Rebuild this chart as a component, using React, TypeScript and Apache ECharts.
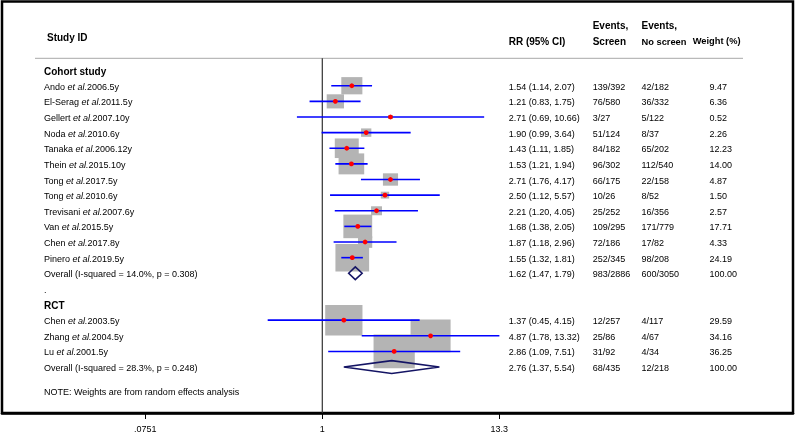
import React, { useEffect, useRef } from "react";
import * as echarts from "echarts";

// ---------- data ----------
const cohortAuthors = ["Ando", "El-Serag", "Gellert", "Noda", "Tanaka", "Thein", "Tong", "Tong", "Trevisani", "Van", "Chen", "Pinero"];
const cohortYears = ["2006.5y", "2011.5y", "2007.10y", "2010.6y", "2006.12y", "2015.10y", "2017.5y", "2010.6y", "2007.6y", "2015.5y", "2017.8y", "2019.5y"];
const cohortRR = [1.54, 1.21, 2.71, 1.9, 1.43, 1.53, 2.71, 2.5, 2.21, 1.68, 1.87, 1.55];
const cohortLower = [1.14, 0.83, 0.69, 0.99, 1.11, 1.21, 1.76, 1.12, 1.2, 1.38, 1.18, 1.32];
const cohortUpper = [2.07, 1.75, 10.66, 3.64, 1.85, 1.94, 4.17, 5.57, 4.05, 2.05, 2.96, 1.81];
const cohortScreen = ["139/392", "76/580", "3/27", "51/124", "84/182", "96/302", "66/175", "10/26", "25/252", "109/295", "72/186", "252/345"];
const cohortNoScreen = ["42/182", "36/332", "5/122", "8/37", "65/202", "112/540", "22/158", "8/52", "16/356", "171/779", "17/82", "98/208"];
const cohortWeight = [9.47, 6.36, 0.52, 2.26, 12.23, 14.0, 4.87, 1.5, 2.57, 17.71, 4.33, 24.19];
const cohortOverallLabel = "Overall (I-squared = 14.0%, p = 0.308)";
const cohortOverall = [1.62, 1.47, 1.79];
const cohortOverallEvents = ["983/2886", "600/3050"];
const cohortOverallWeight = 100.0;

const rctAuthors = ["Chen", "Zhang", "Lu"];
const rctYears = ["2003.5y", "2004.5y", "2001.5y"];
const rctRR = [1.37, 4.87, 2.86];
const rctLower = [0.45, 1.78, 1.09];
const rctUpper = [4.15, 13.32, 7.51];
const rctScreen = ["12/257", "25/86", "31/92"];
const rctNoScreen = ["4/117", "4/67", "4/34"];
const rctWeight = [29.59, 34.16, 36.25];
const rctOverallLabel = "Overall (I-squared = 28.3%, p = 0.248)";
const rctOverall = [2.76, 1.37, 5.54];
const rctOverallEvents = ["68/435", "12/218"];
const rctOverallWeight = 100.0;

const tickValues = [0.0751, 1, 13.3];
const tickLabels = [".0751", "1", "13.3"];

const headers = ["Study ID", "RR (95% CI)", "Events,", "Screen", "Events,", "No screen", "Weight (%)"];
const noteText = "NOTE: Weights are from random effects analysis";

// ---------- layout constants ----------
const FONT = "'Liberation Sans', Arial, Helvetica, sans-serif";
const X_MIN = -4.683;
const X_MAX = 6.882;
const Y_MIN = -4.389;
const Y_MAX = 21.939;
const HEADER_ROW = -0.755;
const BOX_W = 6.85;
const BOX_H = 5.6;
const COL_LABEL = 44;
const COL_RR = 508.7;
const COL_S = 592.7;
const COL_NS = 641.5;
const COL_W = 709.5;

const fmt = (r: number, l: number, u: number) => `${r.toFixed(2)} (${l.toFixed(2)}, ${u.toFixed(2)})`;

type RowText = { row: number; label: string; bold?: boolean; rich?: boolean; rr?: string; s?: string; ns?: string; w?: string };

function buildRows() {
  const rows: RowText[] = [];
  const studies: number[][] = [];
  const overalls: number[][] = [];
  rows.push({ row: 0, label: "Cohort study", bold: true });
  cohortAuthors.forEach((a, i) => {
    const row = 1 + i;
    rows.push({
      row,
      label: `{n|${a} }{i|et al.}{n|${cohortYears[i]}}`,
      rich: true,
      rr: fmt(cohortRR[i], cohortLower[i], cohortUpper[i]),
      s: cohortScreen[i],
      ns: cohortNoScreen[i],
      w: cohortWeight[i].toFixed(2),
    });
    studies.push([Math.log(cohortRR[i]), row, Math.log(cohortLower[i]), Math.log(cohortUpper[i]), cohortWeight[i]]);
  });
  const cRow = 1 + cohortAuthors.length;
  rows.push({ row: cRow, label: cohortOverallLabel, rr: fmt(cohortOverall[0], cohortOverall[1], cohortOverall[2]), s: cohortOverallEvents[0], ns: cohortOverallEvents[1], w: cohortOverallWeight.toFixed(2) });
  overalls.push([Math.log(cohortOverall[0]), cRow, Math.log(cohortOverall[1]), Math.log(cohortOverall[2])]);
  rows.push({ row: cRow + 1, label: "." });
  rows.push({ row: cRow + 2, label: "RCT", bold: true });
  rctAuthors.forEach((a, i) => {
    const row = cRow + 3 + i;
    rows.push({
      row,
      label: `{n|${a} }{i|et al.}{n|${rctYears[i]}}`,
      rich: true,
      rr: fmt(rctRR[i], rctLower[i], rctUpper[i]),
      s: rctScreen[i],
      ns: rctNoScreen[i],
      w: rctWeight[i].toFixed(2),
    });
    studies.push([Math.log(rctRR[i]), row, Math.log(rctLower[i]), Math.log(rctUpper[i]), rctWeight[i]]);
  });
  const rRow = cRow + 3 + rctAuthors.length;
  rows.push({ row: rRow, label: rctOverallLabel, rr: fmt(rctOverall[0], rctOverall[1], rctOverall[2]), s: rctOverallEvents[0], ns: rctOverallEvents[1], w: rctOverallWeight.toFixed(2) });
  overalls.push([Math.log(rctOverall[0]), rRow, Math.log(rctOverall[1]), Math.log(rctOverall[2])]);
  rows.push({ row: rRow + 1.5, label: noteText });
  return { rows, studies, overalls };
}

function txt(text: string, x: number, y: number, size: number, bold = false) {
  return {
    type: "text",
    style: {
      text,
      x,
      y,
      fill: "#000",
      fontSize: size,
      fontFamily: FONT,
      fontWeight: bold ? "bold" : "normal",
      align: "left",
      textAlign: "left",
      verticalAlign: "middle",
      textVerticalAlign: "middle",
    },
  };
}

export default function App() {
  const ref = useRef<HTMLDivElement>(null);
  useEffect(() => {
    if (!ref.current) return;
    const chart = echarts.init(ref.current, undefined, { renderer: "svg" });
    const { rows, studies, overalls } = buildRows();
    const lnTicks = tickValues.map((v) => Math.log(v));

    const option: any = {
      animation: false,
      grid: {
        left: 2,
        right: 3,
        top: 1.5,
        bottom: 21,
        show: true,
        borderColor: "#000",
        borderWidth: 2.5,
        backgroundColor: "transparent",
        outerBoundsMode: "none",
        containLabel: false,
      },
      xAxis: {
        type: "value",
        position: "bottom",
        min: X_MIN,
        max: X_MAX,
        splitLine: { show: false },
        axisLine: { show: true, onZero: false, lineStyle: { color: "#000", width: 2.5 } },
        axisTick: { show: true, length: 6, customValues: lnTicks, lineStyle: { color: "#000", width: 1 } },
        axisLabel: {
          show: true,
          customValues: lnTicks,
          fontSize: 9,
          fontFamily: FONT,
          color: "#000",
          margin: 11,
          formatter: (v: number) => {
            const i = lnTicks.findIndex((t) => Math.abs(t - v) < 1e-6);
            return i >= 0 ? tickLabels[i] : "";
          },
        },
      },
      yAxis: { type: "value", inverse: true, min: Y_MIN, max: Y_MAX, show: false },
      graphic: [
        txt(headers[0], 47, 37.7, 10, true),
        txt(headers[1], COL_RR, 41, 10, true),
        txt(headers[2], COL_S, 25, 10, true),
        txt(headers[3], COL_S, 41, 10, true),
        txt(headers[4], COL_NS, 25, 10, true),
        txt(headers[5], COL_NS, 41.5, 9.3, true),
        txt(headers[6], 692.7, 41, 9.3, true),
        { type: "line", shape: { x1: 35, y1: 58.3, x2: 743, y2: 58.3 }, style: { stroke: "#a8a8a8", lineWidth: 1 } },
      ],
      series: [
        {
          type: "custom",
          silent: true,
          data: [[0, HEADER_ROW]],
          renderItem: (params: any, api: any) => {
            const a = api.coord([api.value(0), api.value(1)]);
            const b = api.coord([api.value(0), Y_MAX]);
            return { type: "line", shape: { x1: a[0], y1: a[1], x2: b[0], y2: b[1] }, style: { stroke: "#333", lineWidth: 1.2 } };
          },
        },
        {
          type: "custom",
          silent: true,
          data: studies,
          renderItem: (params: any, api: any) => {
            const c = api.coord([api.value(0), api.value(1)]);
            const s = Math.sqrt(api.value(4));
            const w = s * BOX_W;
            const h = s * BOX_H;
            return { type: "rect", shape: { x: c[0] - w / 2, y: c[1] - h / 2, width: w, height: h }, style: { fill: "#b4b4b4" } };
          },
        },
        {
          type: "custom",
          silent: true,
          data: studies,
          renderItem: (params: any, api: any) => {
            const y = api.value(1);
            const c = api.coord([api.value(0), y]);
            const a = api.coord([api.value(2), y]);
            const b = api.coord([api.value(3), y]);
            return {
              type: "group",
              children: [
                { type: "line", shape: { x1: a[0], y1: a[1], x2: b[0], y2: b[1] }, style: { stroke: "#0000ff", lineWidth: 1.6 } },
                { type: "circle", shape: { cx: c[0], cy: c[1], r: 2.4 }, style: { fill: "#ff0000" } },
              ],
            };
          },
        },
        {
          type: "custom",
          silent: true,
          data: overalls,
          renderItem: (params: any, api: any) => {
            const y = api.value(1);
            const c = api.coord([api.value(0), y]);
            const a = api.coord([api.value(2), y]);
            const b = api.coord([api.value(3), y]);
            const hh = 6.4;
            return {
              type: "polygon",
              shape: { points: [[a[0], a[1]], [c[0], c[1] - hh], [b[0], b[1]], [c[0], c[1] + hh]] },
              style: { fill: "none", stroke: "#141464", lineWidth: 1.6 },
            };
          },
        },
        {
          type: "custom",
          silent: true,
          data: rows.map((r, i) => [0, r.row, i]),
          renderItem: (params: any, api: any) => {
            const r = rows[api.value(2)];
            const c = api.coord([0, api.value(1)]);
            const y = c[1] + 1;
            const children: any[] = [];
            if (r.rich) {
              children.push({
                type: "text",
                style: {
                  text: r.label,
                  x: COL_LABEL,
                  y,
                  fill: "#000",
                  fontSize: 9,
                  fontFamily: FONT,
                  align: "left",
                  textAlign: "left",
                  verticalAlign: "middle",
                  textVerticalAlign: "middle",
                  rich: {
                    n: { fontSize: 9, fontFamily: FONT, fill: "#000", color: "#000" },
                    i: { fontSize: 9, fontFamily: FONT, fontStyle: "italic", fill: "#000", color: "#000" },
                  },
                },
              });
            } else {
              children.push(txt(r.label, COL_LABEL, y, r.bold ? 10 : 9, !!r.bold));
            }
            if (r.rr) children.push(txt(r.rr, COL_RR, y, 9));
            if (r.s) children.push(txt(r.s, COL_S, y, 9));
            if (r.ns) children.push(txt(r.ns, COL_NS, y, 9));
            if (r.w) children.push(txt(r.w, COL_W, y, 9));
            return { type: "group", children };
          },
        },
      ],
    };
    chart.setOption(option);
    return () => chart.dispose();
  }, []);
  return <div ref={ref} style={{ position: "fixed", left: 0, top: 0, width: 796, height: 434 }} />;
}
